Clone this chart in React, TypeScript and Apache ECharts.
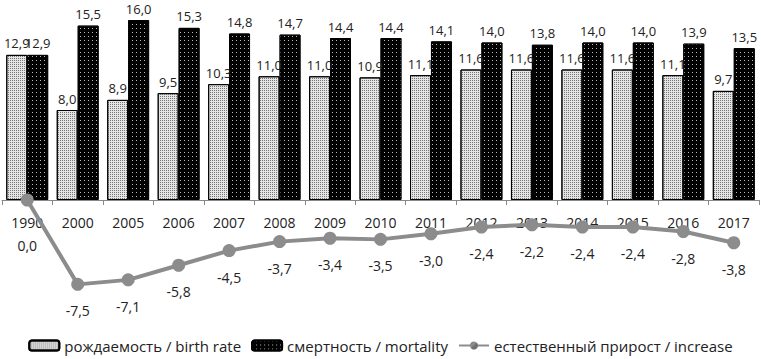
import React, { useEffect, useRef } from "react";
import * as echarts from "echarts";

const years = ["1990", "2000", "2005", "2006", "2007", "2008", "2009", "2010", "2011", "2012", "2013", "2014", "2015", "2016", "2017"];
const birthRate = [12.9, 8.0, 8.9, 9.5, 10.3, 11.0, 11.0, 10.9, 11.1, 11.6, 11.6, 11.6, 11.6, 11.1, 9.7];
const mortality = [12.9, 15.5, 16.0, 15.3, 14.8, 14.7, 14.4, 14.4, 14.1, 14.0, 13.8, 14.0, 14.0, 13.9, 13.5];
const increase = [0.0, -7.5, -7.1, -5.8, -4.5, -3.7, -3.4, -3.5, -3.0, -2.4, -2.2, -2.4, -2.4, -2.8, -3.8];
const seriesNames = ["рождаемость / birth rate", "смертность / mortality", "естественный прирост / increase"];

const fmt = (v: number) => v.toFixed(1).replace(".", ",");
const FONT = "'Open Sans', 'Noto Sans', sans-serif";

export default function App() {
  const ref = useRef<HTMLDivElement>(null);
  useEffect(() => {
    document.body.style.margin = "0";
    const chart = echarts.init(ref.current!, null, { renderer: "svg" });
    chart.setOption({
      animation: false,
      aria: { enabled: true, decal: { show: true } },
      textStyle: { fontFamily: FONT },
      grid: { left: 2, right: 2, top: 20, height: 292.5 },
      legend: {
        left: "center",
        top: 333,
        itemWidth: 30,
        itemHeight: 10,
        itemGap: 10,
        textStyle: { fontSize: 15, color: "#222", fontFamily: FONT },
        data: seriesNames,
      },
      xAxis: {
        type: "category",
        data: years,
        offset: -112.5,
        axisLine: { onZero: false, lineStyle: { color: "#888", width: 1 } },
        axisTick: { show: true, length: 5, lineStyle: { color: "#888" } },
        axisLabel: { fontSize: 14, color: "#222", margin: 15, fontFamily: FONT },
      },
      yAxis: {
        type: "value",
        min: -10,
        max: 16,
        show: false,
        splitLine: { show: false },
      },
      series: [
        {
          name: seriesNames[0],
          type: "bar",
          data: birthRate,
          barGap: "0%",
          barCategoryGap: "17%",
          itemStyle: {
            color: "#e4e4e4",
            borderColor: "#000",
            borderWidth: 1,
            decal: {
              symbol: "rect",
              symbolSize: 1,
              rotation: 0,
              color: "#777777",
              dashArrayX: [1, 1],
              dashArrayY: [1, 1],
            },
          },
          label: {
            show: true,
            position: "top",
            distance: 5,
            fontSize: 13,
            color: "#222",
            fontFamily: FONT,
            formatter: (p: any) => fmt(p.value),
          },
        },
        {
          name: seriesNames[1],
          type: "bar",
          data: mortality,
          itemStyle: {
            color: "#000000",
            borderColor: "#000",
            borderWidth: 1,
            decal: {
              symbol: "rect",
              symbolSize: 1,
              rotation: 0,
              color: "#bbbbbb",
              dashArrayX: [1, 3],
              dashArrayY: [1, 3],
            },
          },
          label: {
            show: true,
            position: "top",
            distance: 5,
            fontSize: 13,
            color: "#222",
            fontFamily: FONT,
            formatter: (p: any) => fmt(p.value),
          },
        },
        {
          name: seriesNames[2],
          type: "line",
          data: increase.map((v, i) =>
            i === 0 ? { value: v, label: { distance: 32 } } : v
          ),
          symbol: "circle",
          symbolSize: 13,
          lineStyle: { color: "#8c8c8c", width: 4 },
          itemStyle: { color: "#8c8c8c", decal: "none" },
          label: {
            show: true,
            position: "bottom",
            distance: 13,
            fontSize: 14,
            color: "#222",
            fontFamily: FONT,
            formatter: (p: any) => fmt(p.value),
          },
          z: 3,
        },
      ],
    });
    return () => chart.dispose();
  }, []);
  return <div ref={ref} style={{ width: 761, height: 359 }} />;
}
